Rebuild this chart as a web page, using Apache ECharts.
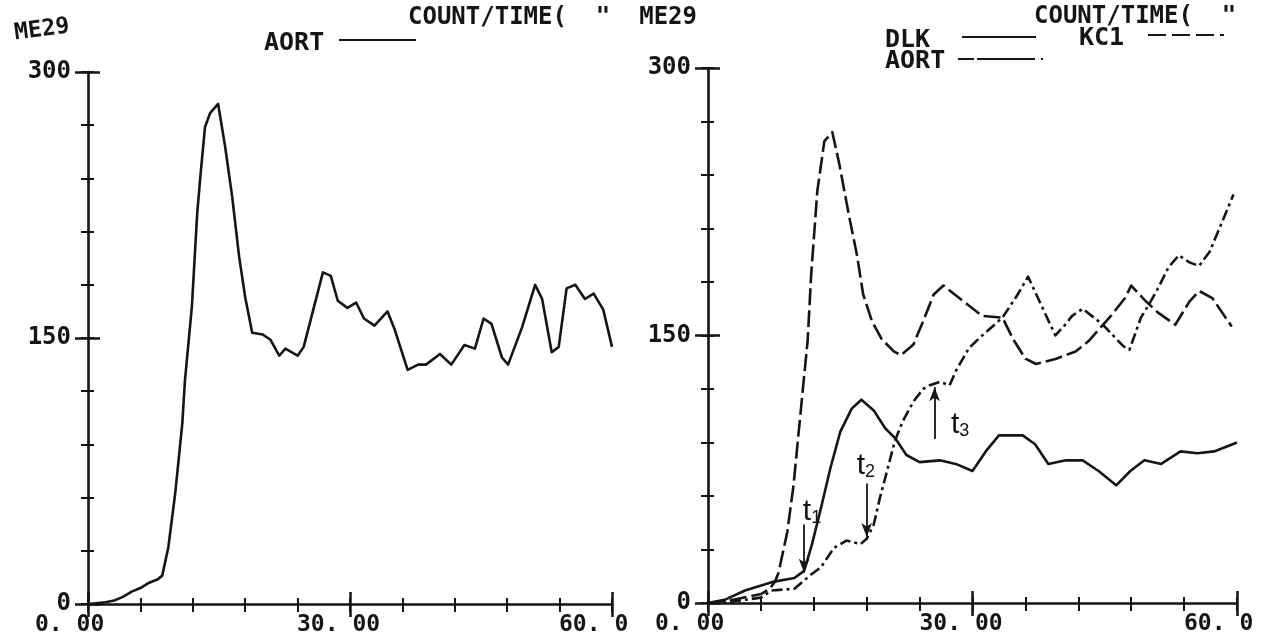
<!DOCTYPE html>
<html>
<head>
<meta charset="utf-8">
<script src="https://cdn.jsdelivr.net/npm/echarts@6/dist/echarts.min.js"></script>
<style>
html,body{margin:0;padding:0;background:#ffffff;}
#chart{width:1264px;height:644px;}
</style>
</head>
<body>
<div id="chart"></div>
<script>
// ---------------- data ----------------
// Left panel: ME29 aorta curve
const timeLeft = [0,2,3,4,5,6,7,8,8.5,9.2,10,10.8,11.1,11.9,12.5,12.9,13.4,14,14.9,15.7,16.5,17.3,18,18.8,20,20.9,21.9,22.6,24,24.7,25.9,26.9,27.8,28.6,29.7,30.7,31.6,32.8,34.3,35.1,36.6,37.8,38.7,40.3,41.6,43.1,44.3,45.3,46.2,47.4,48.1,49.7,51.2,52,53.1,53.9,54.8,55.8,56.9,57.9,59,60];
const aortLeft = [0,1,2,4,7,9,12,14,16,32,63,102,126,168,220,243,269,277,282,258,230,196,173,153,152,149,140,144,140,145,168,187,185,171,167,170,161,157,165,155,132,135,135,141,135,146,144,161,158,139,135,156,180,172,142,145,178,180,172,175,166,145];

// Right panel: DLK (solid)
const timeDlk = [0,2,4.2,7.5,9.8,10.9,11.8,12.8,13.9,15,16.3,17.4,18.8,20.1,21.3,22.5,24,26.3,28.1,30,31.5,33,35.7,37.1,38.6,40.6,42.5,44.3,46.3,47.9,49.5,51.4,53.6,55.5,57.4,59.5,60];
const dlkRight = [0,2,7,12,14,18,33,53,76,96,109,114,108,98,92,83,79,80,78,74,85,94,94,89,78,80,80,74,66,74,80,78,85,84,85,89,90];

// Right panel: KC1 (dashed, first-pass peak)
const timeKc1 = [0,3,6,7,7.6,8,9,9.7,10.8,11.3,11.7,12.4,13.2,14.1,14.9,16,16.9,17.6,18.6,19.7,21.1,21.9,23.3,24.4,25.6,26.7,28.5,31.1,33.4,34.6,36,37.2,39.5,41.7,43.2,44.8,45.7,47.3,48,49.5,51,53,54.6,55.7,57.2,59.4];
const kc1Right = [0,2,5,8,12,17,40,66,122,147,184,231,259,264,246,217,195,173,158,148,141,139,145,158,173,178,171,161,160,148,137,134,137,141,147,156,161,171,178,170,163,156,169,175,171,155];

// Right panel: AORT (dash-dot, rising)
const timeAort = [0,3,6,7.2,9.8,11.7,12.8,14.3,15.7,17.3,18,18.8,19.5,20.2,21.2,22.1,23.3,24.4,25.1,26.3,27.4,28.1,29.6,31.1,33.4,35,36.3,37.8,39.4,40.5,41.3,42.5,44.8,47.1,47.8,49.1,50.2,51.1,52.2,53.4,54.6,55.7,56.9,58,59.6];
const aortRight = [0,1,3,7,8,16,20,31,35,33,36,44,59,72,91,102,113,120,122,124,122,130,143,150,160,172,183,167,150,156,161,165,156,144,142,160,169,177,188,195,191,189,197,210,229];

// Tick labels
const xTickValues = [0, 30, 60];
const xTickTexts = ['0. 00', '30. 00', '60. 0'];
const yTickValues = [0, 150, 300];
const yTickTexts = ['0', '150', '300'];

// Annotations t1, t2, t3 (data coordinates: time, from-count, to-count, label position)
const markNames = ['1', '2', '3'];
const markTime = [10.9, 18.0, 25.7];
const markFrom = [44, 67, 92];
const markTo = [17, 37, 121];
const markLabelTime = [11.8, 17.9, 28.6];
const markLabelCount = [51, 77, 100];

// ---------------- chart ----------------
const INK = '#151515';
const MONO = '"DejaVu Sans Mono", "Liberation Mono", monospace';
const SANS = '"Liberation Sans", "DejaVu Sans", sans-serif';

function pairs(xs, ys) { return xs.map((x, i) => [x, ys[i]]); }

function xLabel(v) {
  const i = xTickValues.indexOf(v);
  return i < 0 ? '' : '{a|' + xTickTexts[i] + '}';
}
function yLabel(v) {
  const i = yTickValues.indexOf(v);
  return i < 0 ? '' : yTickTexts[i];
}

function xAxesFor(g) {
  const base = {type: 'value', gridIndex: g, min: 0, max: 60, position: 'bottom',
    splitLine: {show: false}, axisLabel: {show: false}, axisLine: {show: false}};
  return [
    Object.assign({}, base, {interval: 6,
      axisLine: {show: true, onZero: false, lineStyle: {color: INK, width: 2.6}},
      axisTick: {show: true, inside: false, length: 8, lineStyle: {color: INK, width: 2}}}),
    Object.assign({}, base, {interval: 6,
      axisTick: {show: true, inside: true, length: 6, lineStyle: {color: INK, width: 2}}}),
    Object.assign({}, base, {interval: 30,
      axisTick: {show: true, inside: false, length: 13, lineStyle: {color: INK, width: 2.5}},
      axisLabel: {show: true, margin: 10, showMinLabel: true, showMaxLabel: true,
        align: 'center', formatter: xLabel,
        rich: {
          a: {fontFamily: MONO, fontSize: 23, fontWeight: 'bold', color: INK, width: 106, align: 'left'}
        }}}),
    Object.assign({}, base, {interval: 30,
      axisTick: {show: true, inside: true, length: 12, lineStyle: {color: INK, width: 2.5}}})
  ];
}

function yAxesFor(g) {
  const base = {type: 'value', gridIndex: g, min: 0, max: 300, position: 'left',
    splitLine: {show: false}, axisLabel: {show: false}, axisLine: {show: false}};
  return [
    Object.assign({}, base, {interval: 30,
      axisLine: {show: true, onZero: false, lineStyle: {color: INK, width: 2.6}},
      axisTick: {show: true, inside: false, length: 7, lineStyle: {color: INK, width: 2}}}),
    Object.assign({}, base, {interval: 30,
      axisTick: {show: true, inside: true, length: 6, lineStyle: {color: INK, width: 2}}}),
    Object.assign({}, base, {interval: 150,
      axisTick: {show: true, inside: false, length: 13, lineStyle: {color: INK, width: 2.5}},
      axisLabel: {show: true, margin: 17, showMinLabel: true, showMaxLabel: true,
        formatter: yLabel, color: INK, fontFamily: MONO, fontSize: 24, fontWeight: 'bold'}}),
    Object.assign({}, base, {interval: 150,
      axisTick: {show: true, inside: true, length: 12, lineStyle: {color: INK, width: 2.5}}})
  ];
}

function lineSeries(name, xi, data, dash) {
  return {
    name: name, type: 'line', xAxisIndex: xi, yAxisIndex: xi, data: data,
    symbol: 'none', showSymbol: false, smooth: false, silent: true, z: 5,
    lineStyle: {color: INK, width: 2.6, type: dash || 'solid', cap: 'butt', join: 'round'}
  };
}

const dlkSeries = lineSeries('DLK', 4, pairs(timeDlk, dlkRight), 'solid');
dlkSeries.markLine = {
  silent: true, animation: false,
  symbol: ['none', 'arrow'], symbolSize: [8, 14],
  lineStyle: {color: INK, width: 1.8, type: 'solid'},
  label: {show: false},
  emphasis: {disabled: true},
  data: markNames.map((n, i) => [{coord: [markTime[i], markFrom[i]]}, {coord: [markTime[i], markTo[i]]}])
};
dlkSeries.markPoint = {
  silent: true, animation: false,
  symbol: 'circle', symbolSize: 1,
  itemStyle: {color: 'rgba(0,0,0,0)'},
  label: {
    show: true, position: 'inside',
    formatter: p => '{t|t}{s|' + p.name + '}',
    rich: {
      t: {fontFamily: SANS, fontSize: 30, color: INK},
      s: {fontFamily: SANS, fontSize: 18, color: INK, verticalAlign: 'bottom'}
    }
  },
  data: markNames.map((n, i) => ({name: n, coord: [markLabelTime[i], markLabelCount[i]]}))
};

const TITLE_FONT = 'bold 24px ' + MONO;
const KEY_FONT = 'bold 25px ' + MONO;
const graphicEls = [
  // left panel header
  {type: 'text', x: 42, y: 30, rotation: 0.13, style: {text: 'ME29', font: 'bold 23px ' + MONO, fill: INK, align: 'center', verticalAlign: 'middle'}},
  {type: 'text', x: 264, y: 43, style: {text: 'AORT', font: KEY_FONT, fill: INK, align: 'left', verticalAlign: 'middle'}},
  {type: 'line', shape: {x1: 339, y1: 40, x2: 416, y2: 40}, style: {stroke: INK, lineWidth: 2.2}},
  {type: 'text', x: 408, y: 18, style: {text: 'COUNT/TIME(  "  ME29', font: TITLE_FONT, fill: INK, align: 'left', verticalAlign: 'middle'}},
  // right panel header
  {type: 'text', x: 1034, y: 17, style: {text: 'COUNT/TIME(  "', font: TITLE_FONT, fill: INK, align: 'left', verticalAlign: 'middle'}},
  {type: 'text', x: 885, y: 40, style: {text: 'DLK', font: KEY_FONT, fill: INK, align: 'left', verticalAlign: 'middle'}},
  {type: 'line', shape: {x1: 962, y1: 37, x2: 1036, y2: 37}, style: {stroke: INK, lineWidth: 2.2}},
  {type: 'text', x: 1079, y: 38, style: {text: 'KC1', font: KEY_FONT, fill: INK, align: 'left', verticalAlign: 'middle'}},
  {type: 'line', shape: {x1: 1148, y1: 35, x2: 1234, y2: 35}, style: {stroke: INK, lineWidth: 2.2, lineDash: [18, 6, 18, 6, 18, 6, 4, 30]}},
  {type: 'text', x: 885, y: 61, style: {text: 'AORT', font: KEY_FONT, fill: INK, align: 'left', verticalAlign: 'middle'}},
  {type: 'line', shape: {x1: 958, y1: 59, x2: 1043, y2: 59}, style: {stroke: INK, lineWidth: 2.2, lineDash: [16, 3, 58, 6, 2, 20]}}
];

const option = {
  animation: false,
  backgroundColor: '#ffffff',
  grid: [
    {left: 88, top: 72, width: 524, height: 532, containLabel: false, outerBoundsMode: 'none'},
    {left: 708, top: 68, width: 529, height: 535, containLabel: false, outerBoundsMode: 'none'}
  ],
  xAxis: xAxesFor(0).concat(xAxesFor(1)),
  yAxis: yAxesFor(0).concat(yAxesFor(1)),
  series: [
    lineSeries('AORT', 0, pairs(timeLeft, aortLeft), 'solid'),
    dlkSeries,
    lineSeries('KC1', 4, pairs(timeKc1, kc1Right), [17, 5]),
    lineSeries('AORT ', 4, pairs(timeAort, aortRight), [11, 4, 3, 4])
  ],
  graphic: graphicEls
};

const chart = echarts.init(document.getElementById('chart'), null, {renderer: 'canvas'});
chart.setOption(option);
</script>
</body>
</html>
